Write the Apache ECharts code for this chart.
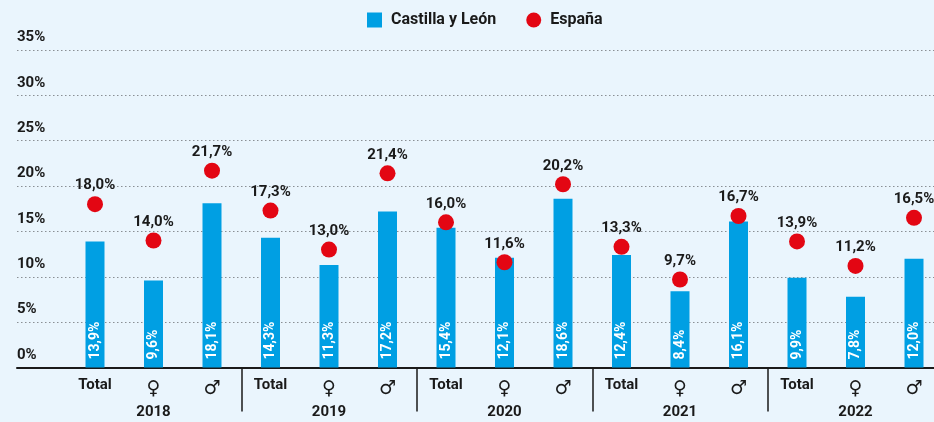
<!DOCTYPE html>
<html><head><meta charset="utf-8">
<script src="https://cdn.jsdelivr.net/npm/echarts@6/dist/echarts.min.js"></script>
<style>html,body{margin:0;padding:0;background:#eaf5fd;}#c{width:934px;height:422px;}</style>
</head><body><div id="c"></div>
<script>
const categories = ['Total','♀','♂','Total','♀','♂','Total','♀','♂','Total','♀','♂','Total','♀','♂'];
const years = ['2018','2019','2020','2021','2022'];
const castillaLeon = [13.9,9.6,18.1,14.3,11.3,17.2,15.4,12.1,18.6,12.4,8.4,16.1,9.9,7.8,12.0];
const espana = [18.0,14.0,21.7,17.3,13.0,21.4,16.0,11.6,20.2,13.3,9.7,16.7,13.9,11.2,16.5];
const yTicks = {min:0,max:35,interval:5};

const FONT = 'Roboto, "Liberation Sans", sans-serif';
const fmt = v => v.toFixed(1).replace('.', ',') + '%';
const nGroups = years.length, perGroup = 3;
const sepValues = [], yearPos = [];
for (let i = 0; i < nGroups; i++) { yearPos.push(i*perGroup + perGroup/2); if (i>0) sepValues.push(i*perGroup); }

const chart = echarts.init(document.getElementById('c'));
chart.setOption({
  backgroundColor: '#eaf5fd',
  textStyle: {fontFamily: FONT},
  legend: {
    top: 7, left: 362, itemWidth: 15, itemHeight: 15, itemGap: 30,
    textStyle: {fontFamily: FONT, fontWeight: 'bold', fontSize: 16, color: '#1a1a1a', padding:[0,0,0,4]},
    data: [{name:'Castilla y León', icon:'rect'}, {name:'España', icon:'circle'}]
  },
  grid: [
    {left: 17, right: 0, top: 50, height: 317.5, outerBoundsMode: 'none', containLabel: false},
    {left: 65.75, width: 877.5, top: 50, height: 317.5, outerBoundsMode: 'none', containLabel: false}
  ],
  xAxis: [
    {type:'value', gridIndex:0, min:0, max:1, show:true,
     axisLine:{show:true, lineStyle:{color:'#1a1a1a', width:2}},
     axisTick:{show:false}, axisLabel:{show:false}, splitLine:{show:false}},
    {type:'category', gridIndex:1, data: categories,
     axisLine:{show:false}, axisTick:{show:false},
     axisLabel:{interval:0, margin:10, color:'#1a1a1a',
       formatter: v => v === 'Total' ? '{t|' + v + '}' : '{s|' + v + '}',
       rich:{t:{fontFamily:FONT, fontWeight:'bold', fontSize:15, color:'#1a1a1a'},
             s:{fontFamily:'"DejaVu Sans", sans-serif', fontSize:19, color:'#1a1a1a', padding:[2,0,0,0]}}}},
    {type:'value', gridIndex:1, min:0, max:categories.length, position:'bottom', offset:0,
     axisLine:{show:false}, splitLine:{show:false},
     axisTick:{show:true, length:44, customValues: sepValues, lineStyle:{color:'#1a1a1a', width:1.5}},
     axisLabel:{show:true, margin:37, customValues: yearPos, fontFamily:FONT, fontWeight:'bold', fontSize:15, color:'#1a1a1a',
       formatter: v => years[Math.floor(v/perGroup)]}}
  ],
  yAxis: [
    {type:'value', gridIndex:0, min:yTicks.min, max:yTicks.max, interval:yTicks.interval,
     axisLine:{show:false}, axisTick:{show:false},
     splitLine:{show:true, lineStyle:{type:[1.5,2.5], color:'#8a8f94', width:1}},
     axisLabel:{inside:true, margin:0, verticalAlign:'bottom', align:'left', padding:[0,0,5,0],
       fontFamily:FONT, fontWeight:'bold', fontSize:15, color:'#1a1a1a', formatter:'{value}%'}},
    {type:'value', gridIndex:1, min:yTicks.min, max:yTicks.max, interval:yTicks.interval, show:false}
  ],
  series: [
    {name:'Castilla y León', type:'bar', xAxisIndex:1, yAxisIndex:1, data: castillaLeon, barWidth:19,
     itemStyle:{color:'#009fe3'},
     label:{show:true, position:'insideBottom', rotate:90, align:'left', verticalAlign:'middle', distance:8,
       fontFamily:FONT, fontWeight:'bold', fontSize:14, color:'#ffffff', formatter: p => fmt(p.value)}},
    {name:'España', type:'scatter', xAxisIndex:1, yAxisIndex:1, data: espana, symbolSize:16,
     itemStyle:{color:'#e30613', opacity:1},
     label:{show:true, position:'top', distance:3, fontFamily:FONT, fontWeight:'bold', fontSize:15, color:'#1a1a1a',
       formatter: p => fmt(p.value)}}
  ]
});
</script></body></html>
